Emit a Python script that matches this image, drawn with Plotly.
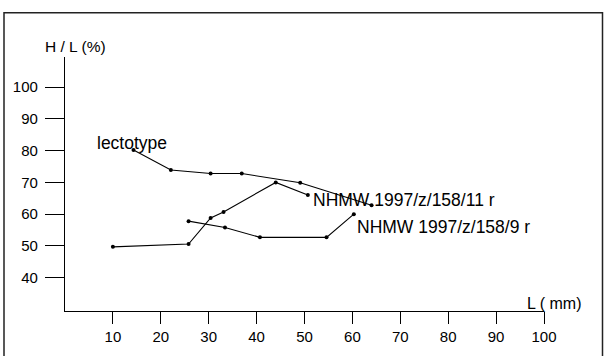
import plotly.graph_objects as go

# Data
lecto_L = [14.3, 22.1, 30.4, 36.9, 49.1, 64.0]
lecto_HL = [80.2, 73.9, 72.8, 72.8, 69.9, 62.8]

n11_L = [10.0, 25.8, 30.4, 33.1, 44.0, 50.7]
n11_HL = [49.7, 50.6, 58.8, 60.7, 70.0, 66.0]

n9_L = [25.8, 33.4, 40.7, 54.6, 60.3]
n9_HL = [57.8, 55.8, 52.7, 52.7, 60.0]

x_ticks = [10, 20, 30, 40, 50, 60, 70, 80, 90, 100]
y_ticks = [40, 50, 60, 70, 80, 90, 100]

W, H = 604, 356
ML, MR, MT, MB = 65, 60, 57, 45
PW = W - ML - MR
PH = H - MT - MB


def px(xp):
    return (xp - ML) / PW


def py(yp):
    return (H - MB - yp) / PH


FONT = "Liberation Sans, Arial, sans-serif"

fig = go.Figure()
for xs, ys in [(lecto_L, lecto_HL), (n11_L, n11_HL), (n9_L, n9_HL)]:
    fig.add_trace(go.Scatter(
        x=xs, y=ys, mode="lines+markers",
        line=dict(color="black", width=1.1),
        marker=dict(color="black", size=4),
        showlegend=False, cliponaxis=False,
    ))

fig.update_layout(
    width=W, height=H,
    margin=dict(l=ML, r=MR, t=MT, b=MB),
    paper_bgcolor="white", plot_bgcolor="white",
    font=dict(family=FONT, color="black", size=15),
    xaxis=dict(range=[0, 100], tickvals=x_ticks, ticks="outside", ticklen=12,
               tickwidth=1.2, tickcolor="black", showline=True, linecolor="black",
               linewidth=1.2, showgrid=False, zeroline=False,
               tickfont=dict(size=15, family=FONT, color="black")),
    yaxis=dict(range=[29.5, 109.5], tickvals=y_ticks, ticks="outside", ticklen=19,
               tickwidth=1.2, tickcolor="black", showline=True, linecolor="black",
               linewidth=1.2, showgrid=False, zeroline=False, ticklabelstandoff=4,
               tickfont=dict(size=15, family=FONT, color="black")),
)

# frame around the figure
fig.add_shape(type="rect", xref="paper", yref="paper",
              x0=px(4), x1=px(602.5), y0=py(370), y1=py(12.7),
              line=dict(color="#222", width=1.5), layer="below")

annots = [
    ("H / L (%)", 75, 46.7, "center", 15.5),
    ("lectotype", 96, 142.7, "left", 17.5),
    ("NHMW 1997/z/158/11 r", 312, 199.5, "left", 17.5),
    ("NHMW 1997/z/158/9 r", 356, 227.5, "left", 17.5),
    ("L ( mm)", 526, 303.3, "left", 16),
]
for text, xp_, yp_, anchor, fs in annots:
    fig.add_annotation(text=text, xref="paper", yref="paper", x=px(xp_), y=py(yp_),
                       xanchor=anchor, yanchor="middle", showarrow=False,
                       borderpad=0,
                       font=dict(size=fs, family=FONT, color="black"))

fig.write_html("out.html", config={"displayModeBar": False},
               post_script="document.body.style.margin='0';document.body.style.overflow='hidden';")
